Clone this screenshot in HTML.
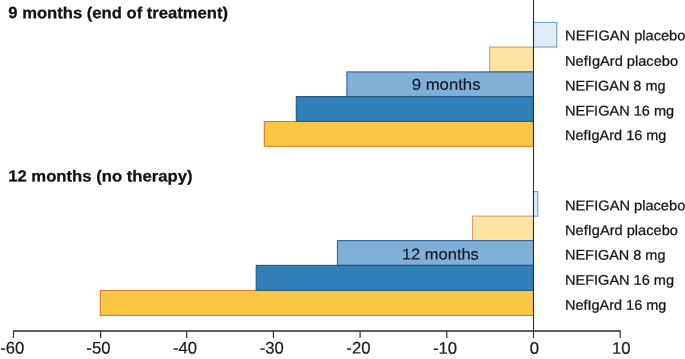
<!DOCTYPE html>
<html>
<head>
<meta charset="utf-8">
<style>
html,body{margin:0;padding:0;background:#fff;}
body{width:685px;height:359px;overflow:hidden;}
svg{display:block;will-change:transform;}
text{font-family:"Liberation Sans",sans-serif;}
.t{font-weight:bold;font-size:16.0px;fill:#111;stroke:#111;stroke-width:0.25px;}
.l{font-size:14px;fill:#141414;stroke:#141414;stroke-width:0.25px;}
.a{font-size:16.7px;fill:#1a1a1a;stroke:#1a1a1a;stroke-width:0.2px;}
.m{font-size:15.7px;fill:#0c1628;stroke:#0c1628;stroke-width:0.15px;}
</style>
</head>
<body>
<svg width="685" height="359" viewBox="0 0 685 359">
<rect width="685" height="359" fill="#fff"/>
<!-- 9 months bars -->
<rect x="489.6" y="47.1" width="43.8" height="24.6" fill="#fde3a1" stroke="#da9c68" stroke-width="1.1"/>
<rect x="264.3" y="121.5" width="269.1" height="24.8" fill="#f9c744" stroke="#d47a2a" stroke-width="1.1"/>
<rect x="533.4" y="22.4" width="23.4" height="24.6" fill="#dfebf6" stroke="#769fc2" stroke-width="1.1"/>
<rect x="346.9" y="71.9" width="186.5" height="24.6" fill="#81b0d7" stroke="#33699a" stroke-width="1.1"/>
<rect x="296.3" y="96.6" width="237.1" height="24.7" fill="#3180ba" stroke="#1d5a88" stroke-width="1.1"/>
<!-- 12 months bars -->
<rect x="472.6" y="216.1" width="60.8" height="24.4" fill="#fde3a1" stroke="#da9c68" stroke-width="1.1"/>
<rect x="100.3" y="290.5" width="433.1" height="24.9" fill="#f9c744" stroke="#d47a2a" stroke-width="1.1"/>
<rect x="533.4" y="191.6" width="4.4" height="24.6" fill="#dfebf6" stroke="#769fc2" stroke-width="1.1"/>
<rect x="337.4" y="240.6" width="196" height="24.7" fill="#81b0d7" stroke="#33699a" stroke-width="1.1"/>
<rect x="256.2" y="265.4" width="277.2" height="24.9" fill="#3180ba" stroke="#1d5a88" stroke-width="1.1"/>
<!-- axes -->
<g stroke="#303030" stroke-width="1.2" fill="none">
<line x1="533.5" y1="0" x2="533.5" y2="337.9" stroke="#303030" stroke-width="1.1"/>
<line x1="12.9" y1="331.0" x2="620.8" y2="331.0" stroke-width="1.5" stroke="#2a2a2a"/>
<line x1="13.5" y1="331.0" x2="13.5" y2="337.9"/>
<line x1="100.6" y1="331.0" x2="100.6" y2="337.9"/>
<line x1="186.7" y1="331.0" x2="186.7" y2="337.9"/>
<line x1="273.4" y1="331.0" x2="273.4" y2="337.9"/>
<line x1="360.1" y1="331.0" x2="360.1" y2="337.9"/>
<line x1="446.8" y1="331.0" x2="446.8" y2="337.9"/>
<line x1="620.2" y1="331.0" x2="620.2" y2="337.9"/>
</g>
<g transform="rotate(0.03 342 180)">
<!-- tick labels -->
<g class="a" text-anchor="middle">
<text x="12.3" y="353.6">-60</text>
<text x="98.5" y="353.6">-50</text>
<text x="185.1" y="353.6">-40</text>
<text x="271.8" y="353.6">-30</text>
<text x="358.5" y="353.6">-20</text>
<text x="445.2" y="353.6">-10</text>
<text x="534.4" y="353.6">0</text>
<text x="621.4" y="353.6">10</text>
</g>
<!-- titles -->
<text class="t" x="8.2" y="18.3" textLength="219.8" lengthAdjust="spacingAndGlyphs">9 months (end of treatment)</text>
<text class="t" x="8.2" y="181.6" textLength="184.3" lengthAdjust="spacingAndGlyphs">12 months (no therapy)</text>
<!-- in-bar labels -->
<text class="m" x="411.7" y="89.8" textLength="68.8" lengthAdjust="spacingAndGlyphs">9 months</text>
<text class="m" x="402.0" y="259.4" textLength="76.9" lengthAdjust="spacingAndGlyphs">12 months</text>
<!-- legend labels -->
<g class="l">
<text x="565.0" y="40.2" textLength="120.3" lengthAdjust="spacingAndGlyphs">NEFIGAN placebo</text>
<text x="565.0" y="65.6" textLength="113.0" lengthAdjust="spacingAndGlyphs">NefIgArd placebo</text>
<text x="565.0" y="90.4" textLength="100.5" lengthAdjust="spacingAndGlyphs">NEFIGAN 8 mg</text>
<text x="565.0" y="115.3" textLength="109.1" lengthAdjust="spacingAndGlyphs">NEFIGAN 16 mg</text>
<text x="565.0" y="139.9" textLength="101.4" lengthAdjust="spacingAndGlyphs">NefIgArd 16 mg</text>
<text x="565.0" y="210.2" textLength="120.3" lengthAdjust="spacingAndGlyphs">NEFIGAN placebo</text>
<text x="565.0" y="234.9" textLength="113.0" lengthAdjust="spacingAndGlyphs">NefIgArd placebo</text>
<text x="565.0" y="259.5" textLength="100.5" lengthAdjust="spacingAndGlyphs">NEFIGAN 8 mg</text>
<text x="565.0" y="284.7" textLength="109.1" lengthAdjust="spacingAndGlyphs">NEFIGAN 16 mg</text>
<text x="565.0" y="309.6" textLength="101.4" lengthAdjust="spacingAndGlyphs">NefIgArd 16 mg</text>
</g>
</g>
</svg>
</body>
</html>
